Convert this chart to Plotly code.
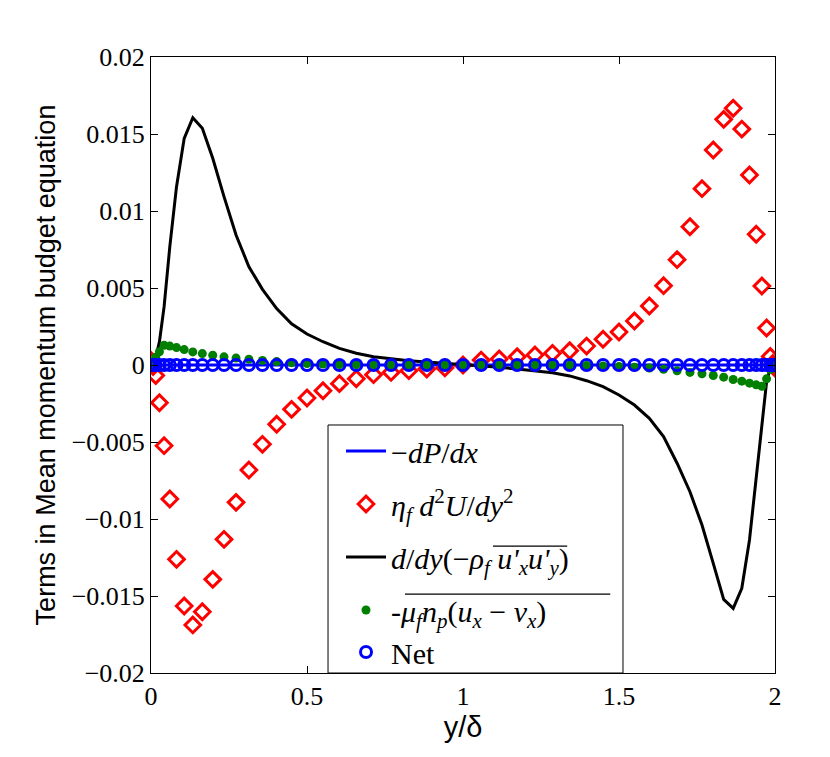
import plotly.graph_objects as go

# wall-normal positions y/delta (same grid for all terms)
y_delta = [0.0, 0.0017, 0.0068, 0.0152, 0.0270, 0.0420, 0.0603, 0.0818, 0.1064, 0.1340,
           0.1645, 0.1979, 0.2340, 0.2726, 0.3138, 0.3572, 0.4028, 0.4505, 0.5000, 0.5512,
           0.6039, 0.6580, 0.7132, 0.7694, 0.8264, 0.8839, 0.9419, 1.0000, 1.0581, 1.1161,
           1.1736, 1.2306, 1.2868, 1.3420, 1.3961, 1.4488, 1.5000, 1.5495, 1.5972, 1.6428,
           1.6862, 1.7274, 1.7660, 1.8021, 1.8355, 1.8660, 1.8936, 1.9182, 1.9397, 1.9580,
           1.9730, 1.9848, 1.9932, 1.9983, 2.0]

# -dP/dx
pressure = [0.0] * 55

# eta_f d2U/dy2
viscous = [0.0003, 0.0002, -0.0001, -0.00068, -0.00245, -0.00524, -0.0087, -0.01262, -0.01565, -0.01688,
           -0.01602, -0.01392, -0.01132, -0.00892, -0.00682, -0.00515, -0.00385, -0.00288, -0.00214, -0.00167,
           -0.00121, -0.00089, -0.00063, -0.00048, -0.00037, -0.00026, -0.00019, 0.0, 0.00032, 0.00039,
           0.00054, 0.00065, 0.00076, 0.00093, 0.00123, 0.00167, 0.00214, 0.00286, 0.00383, 0.00515,
           0.00684, 0.00898, 0.01145, 0.01396, 0.01595, 0.01667, 0.01532, 0.01234, 0.00849, 0.00513,
           0.0024, 0.00055, 0.0001, -0.0001, -0.0002]

# d/dy(-rho_f <ux' uy'>)
reynolds = [0.0, 0.0, 0.0001, 0.0005, 0.0015, 0.00379, 0.00768, 0.01158, 0.01472, 0.01606,
            0.01537, 0.01342, 0.01093, 0.00844, 0.00638, 0.00491, 0.00366, 0.00268, 0.00201, 0.00151,
            0.00108, 0.00076, 0.00054, 0.00039, 0.00028, 0.00019, 0.00011, 0.00004, -0.00005, -0.00015,
            -0.00026, -0.00037, -0.0005, -0.00071, -0.00102, -0.00141, -0.00195, -0.0026, -0.00346, -0.00465,
            -0.00638, -0.00823, -0.01039, -0.01288, -0.01522, -0.0158, -0.0145, -0.01136, -0.00725, -0.00379,
            -0.0011, -0.0002, 0.0, 0.0, 0.0]

# -mu_f n_p (ux - vx)
drag = [0.0, 0.0001, 0.0002, 0.0005, 0.00086, 0.00128, 0.00123, 0.00113, 0.001, 0.00085,
        0.00074, 0.00063, 0.00053, 0.00045, 0.00038, 0.0003, 0.00022, 0.00015, 0.0001, 0.00006,
        0.00003, 0.00002, 0.00001, 0.0, 0.0, 0.0, 0.0, 0.0, 0.0, 0.0,
        0.0, 0.0, -0.00001, -0.00002, -0.00003, -0.00006, -0.0001, -0.00014, -0.0002, -0.00028,
        -0.00038, -0.00048, -0.00057, -0.00068, -0.00079, -0.00094, -0.00105, -0.00118, -0.00129, -0.00138,
        -0.0009, -0.0003, -0.0001, 0.0, 0.0]

# net
net = [0.0] * 55

y_ticks = [-0.02, -0.015, -0.01, -0.005, 0, 0.005, 0.01, 0.015, 0.02]
x_ticks = [0, 0.5, 1, 1.5, 2]

fig = go.Figure()

fig.add_trace(go.Scatter(
    x=y_delta, y=pressure, mode="lines", line=dict(color="#0000ff", width=3),
    name="−<i>dP</i>/<i>dx</i>", legendgroup="a"))
fig.add_trace(go.Scatter(
    x=y_delta, y=viscous, mode="markers",
    marker=dict(symbol="diamond-open", size=12, color="#ff0000", line=dict(width=3)),
    name="<i>η<sub>f</sub></i> <i>d</i><sup>2</sup><i>U</i>/<i>dy</i><sup>2</sup>", legendgroup="b"))
fig.add_trace(go.Scatter(
    x=y_delta, y=reynolds, mode="lines", line=dict(color="#000000", width=3),
    name="<i>d</i>/<i>dy</i>(−<i>ρ<sub>f</sub></i> <i>u'<sub>x</sub>u'<sub>y</sub></i>)",
    legendgroup="c"))
fig.add_trace(go.Scatter(
    x=y_delta, y=drag, mode="markers",
    marker=dict(symbol="circle", size=9, color="#007f00"),
    name="-<i>μ<sub>f</sub>n<sub>p</sub></i>(<i>u<sub>x</sub></i> − <i>v<sub>x</sub></i>)",
    legendgroup="d"))
fig.add_trace(go.Scatter(
    x=y_delta, y=net, mode="markers",
    marker=dict(symbol="circle-open", size=11, color="#0000ff", line=dict(width=3)),
    name="Net", legendgroup="d"))

fig.update_xaxes(
    range=[0, 2], tickvals=x_ticks, ticks="inside", ticklen=7, tickcolor="black",
    showline=True, linecolor="black", linewidth=1, mirror="ticks", showgrid=False, zeroline=False,
    tickfont=dict(family="Liberation Serif", size=26, color="black"),
    title=dict(text="y/δ", font=dict(family="Liberation Sans", size=29, color="black"), standoff=0))
fig.update_yaxes(
    range=[-0.02, 0.02], tickvals=y_ticks, ticks="inside", ticklen=7, tickcolor="black",
    showline=True, linecolor="black", linewidth=1, mirror="ticks", showgrid=False, zeroline=False,
    tickfont=dict(family="Liberation Serif", size=26, color="black"),
    title=dict(text="Terms in Mean momentum budget equation",
               font=dict(family="Liberation Sans", size=27, color="black"), standoff=8))

# legend frame and the overlines of the math labels
fig.add_shape(type="rect", xref="paper", yref="paper", x0=0.2837, x1=0.7564, y0=0, y1=0.4026,
              line=dict(color="black", width=1), fillcolor="white", layer="above")
fig.add_shape(type="line", xref="paper", yref="paper", x0=0.548, x1=0.667, y0=0.206, y1=0.206,
              line=dict(color="black", width=1.2), layer="above")
fig.add_shape(type="line", xref="paper", yref="paper", x0=0.407, x1=0.736, y0=0.128, y1=0.128,
              line=dict(color="black", width=1.2), layer="above")

fig.update_layout(
    width=822, height=749,
    margin=dict(l=143, r=55, t=49, b=84),
    paper_bgcolor="white", plot_bgcolor="white",
    legend=dict(x=0.3045, y=0.4026, xanchor="left", yanchor="top",
                bgcolor="rgba(0,0,0,0)", borderwidth=0,
                font=dict(family="Liberation Serif", size=30, color="black"),
                tracegroupgap=11, itemwidth=40),
)

fig.write_html("out.html")
